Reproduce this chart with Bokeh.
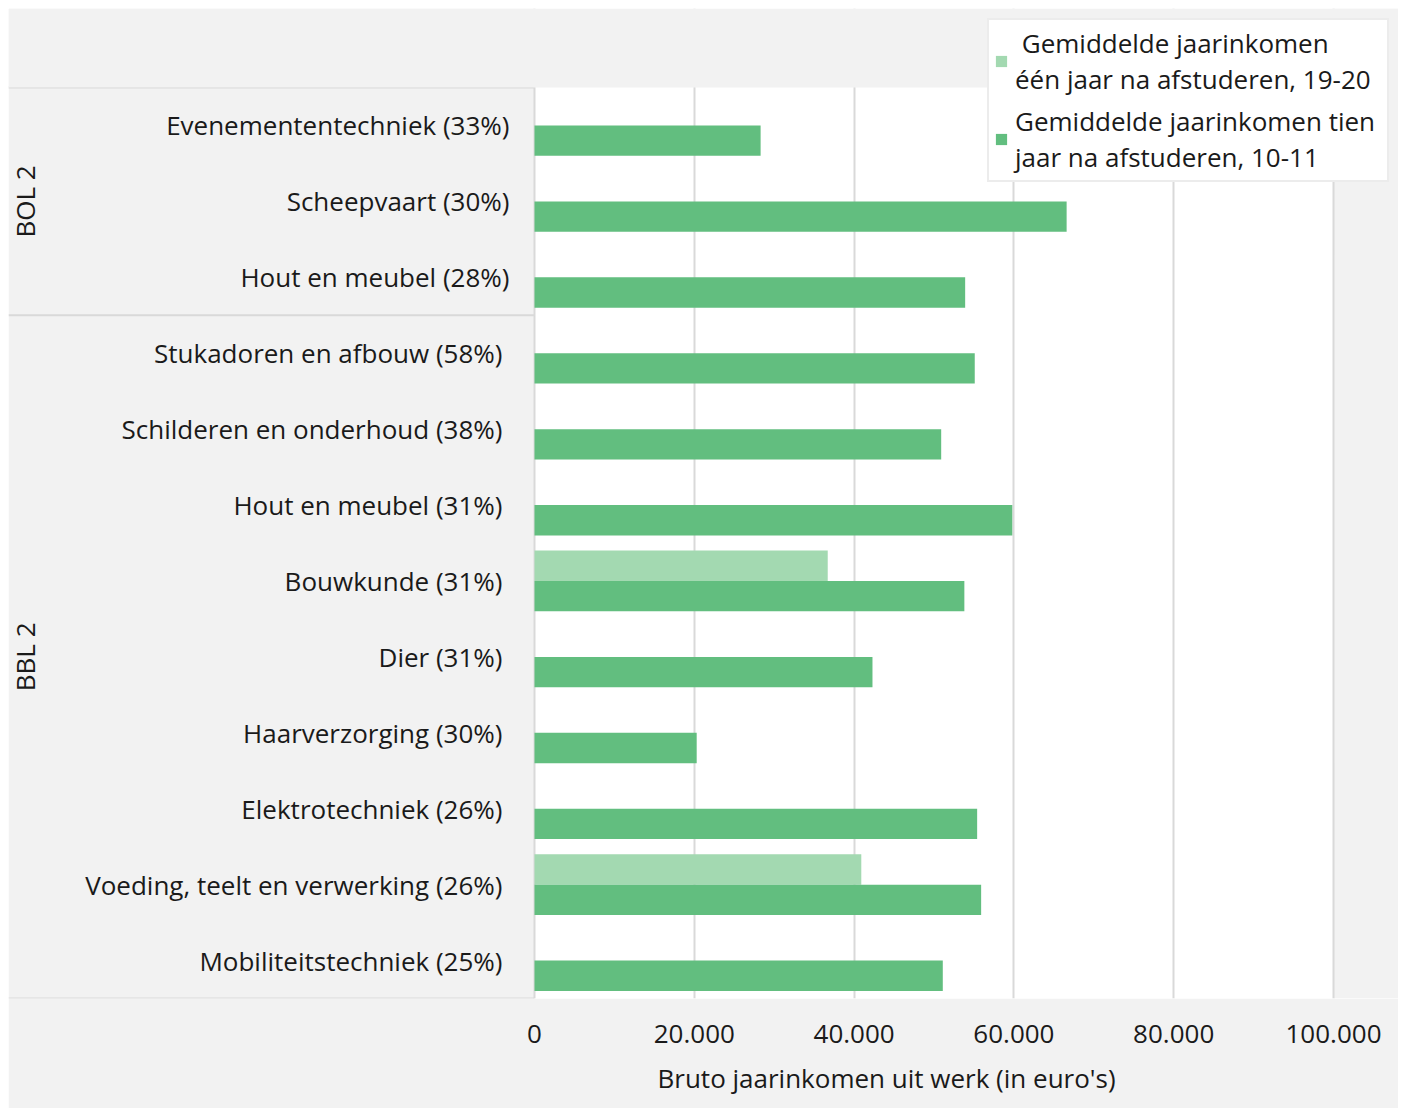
import math
from bokeh.plotting import figure
from bokeh.models import (ColumnDataSource, Range1d, FixedTicker, BoxAnnotation,
                          Legend, LegendItem, Title)
from bokeh.core.properties import value
from bokeh.embed import file_html
from bokeh.resources import INLINE

# ---------------- data ----------------
groups = ["BOL 2", "BOL 2", "BOL 2",
          "BBL 2", "BBL 2", "BBL 2", "BBL 2", "BBL 2", "BBL 2", "BBL 2", "BBL 2", "BBL 2"]
categories = ["Evenemententechniek (33%)", "Scheepvaart (30%)", "Hout en meubel (28%)",
              "Stukadoren en afbouw (58%)", "Schilderen en onderhoud (38%)",
              "Hout en meubel (31%)", "Bouwkunde (31%)", "Dier (31%)",
              "Haarverzorging (30%)", "Elektrotechniek (26%)",
              "Voeding, teelt en verwerking (26%)", "Mobiliteitstechniek (25%)"]
income_one_year = [None, None, None, None, None, None, 36700, None, None, None, 40900, None]
income_ten_years = [28300, 66600, 53900, 55100, 50900, 59800, 53800, 42300, 20300, 55400, 55900, 51100]
x_ticks = [0, 20000, 40000, 60000, 80000, 100000]
x_tick_labels = ["0", "20.000", "40.000", "60.000", "80.000", "100.000"]
series_names = [" Gemiddelde jaarinkomen\néén jaar na afstuderen, 19-20",
                "Gemiddelde jaarinkomen tien\njaar na afstuderen, 10-11"]
x_title = "Bruto jaarinkomen uit werk (in euro's)"

# ---------------- style / layout ----------------
FONT = "Open Sans"
FS = "26px"
TXT = "#1a1a1a"
GREY_BG = "#f2f2f2"
LINE = "#d9d9d9"
LIGHT = "#a3d9b1"
DARK = "#62be7f"
W, H = 1390, 1100
LABEL_PANEL, PLOT_W, RIGHT_PANEL = 526, 799, 65
TOP_PANEL, PLOT_H, BOTTOM = 79, 911, 110
group_label_offset = {"BOL 2": -25, "BBL 2": -32}

x_max = x_ticks[-1]
x_start = -LABEL_PANEL / PLOT_W * x_max
x_end = x_max + RIGHT_PANEL / PLOT_W * x_max
n = len(categories)
y_top = -TOP_PANEL / (PLOT_H / n)

p = figure(width=W, height=H, x_range=Range1d(x_start, x_end), y_range=Range1d(n, y_top),
           output_backend="svg", toolbar_location=None, y_axis_location=None,
           min_border_left=0, min_border_right=0, min_border_top=0,
           min_border_bottom=BOTTOM, background_fill_color="white",
           border_fill_color=GREY_BG, outline_line_color=None)
p.margin = (8, 0, 0, 8)

# grey panels around the white plotting area
p.add_layout(BoxAnnotation(right=0, fill_color=GREY_BG, fill_alpha=1.0,
                           line_color=None, level="image"))
p.add_layout(BoxAnnotation(left=x_max, fill_color=GREY_BG, fill_alpha=1.0,
                           line_color=None, level="image"))
p.add_layout(BoxAnnotation(bottom=0, top=y_top, fill_color=GREY_BG, fill_alpha=1.0,
                           line_color=None, level="glyph"))

centers = [i + 0.5 for i in range(n)]

# bars
one_y = [c - 0.2 for c, v in zip(centers, income_one_year) if v is not None]
one_v = [v for v in income_one_year if v is not None]
r_one = p.hbar(y=one_y, right=one_v, left=0, height=0.4, fill_color=LIGHT, line_color=None)
r_ten = p.hbar(y=[c + 0.2 for c in centers], right=income_ten_years, left=0, height=0.4,
               fill_color=DARK, line_color=None)

# category labels
lab_src = ColumnDataSource(dict(x=[0] * n, y=centers, text=categories,
                                xo=[group_label_offset[g] for g in groups]))
p.text(x="x", y="y", text="text", x_offset="xo", source=lab_src,
       text_font=value(FONT), text_font_size=FS, text_color=TXT,
       text_align="right", text_baseline="middle")

# group labels & separators
uniq = []
for g in groups:
    if g not in uniq:
        uniq.append(g)
bounds = [0]
gmid = []
for g in uniq:
    cnt = groups.count(g)
    gmid.append(bounds[-1] + cnt / 2)
    bounds.append(bounds[-1] + cnt)
p.text(x=[x_start] * len(uniq), y=gmid, text=uniq, x_offset=16, angle=math.pi / 2,
       text_font=value(FONT), text_font_size=FS, text_color=TXT,
       text_align="center", text_baseline="middle")
p.segment(x0=[x_start] * len(bounds), x1=[0] * len(bounds), y0=bounds, y1=bounds,
          line_color=LINE, line_width=2)

# axes / grid
p.xgrid.ticker = FixedTicker(ticks=x_ticks)
p.xgrid.grid_line_color = LINE
p.xgrid.grid_line_width = 2
p.ygrid.visible = False
ax = p.xaxis[0]
ax.ticker = FixedTicker(ticks=x_ticks)
ax.major_label_overrides = {t: l for t, l in zip(x_ticks, x_tick_labels)}
ax.axis_line_color = None
ax.major_tick_line_color = None
ax.minor_tick_line_color = None
ax.major_label_standoff = 20
ax.major_label_text_font = FONT
ax.major_label_text_font_size = FS
ax.major_label_text_color = TXT

t = Title(text=x_title, align="left", offset=649, text_font=FONT,
          text_font_size=FS, text_color=TXT, text_font_style="normal", standoff=25,
          text_line_height=0.85)
p.add_layout(t, "below")

legend = Legend(items=[LegendItem(label=series_names[0], renderers=[r_one]),
                       LegendItem(label=series_names[1], renderers=[r_ten])],
                location=(979, 816))
legend.label_text_font = FONT
legend.label_text_font_size = FS
legend.label_text_color = TXT
legend.glyph_width = 14
legend.glyph_height = 14
legend.label_standoff = 7
legend.label_width = 367
legend.spacing = 6
legend.padding = 5
legend.margin = 0
legend.border_line_color = LINE
legend.border_line_width = 2
legend.background_fill_color = "white"
legend.background_fill_alpha = 1.0
p.add_layout(legend)

open("out.html", "w").write(file_html(p, INLINE))
